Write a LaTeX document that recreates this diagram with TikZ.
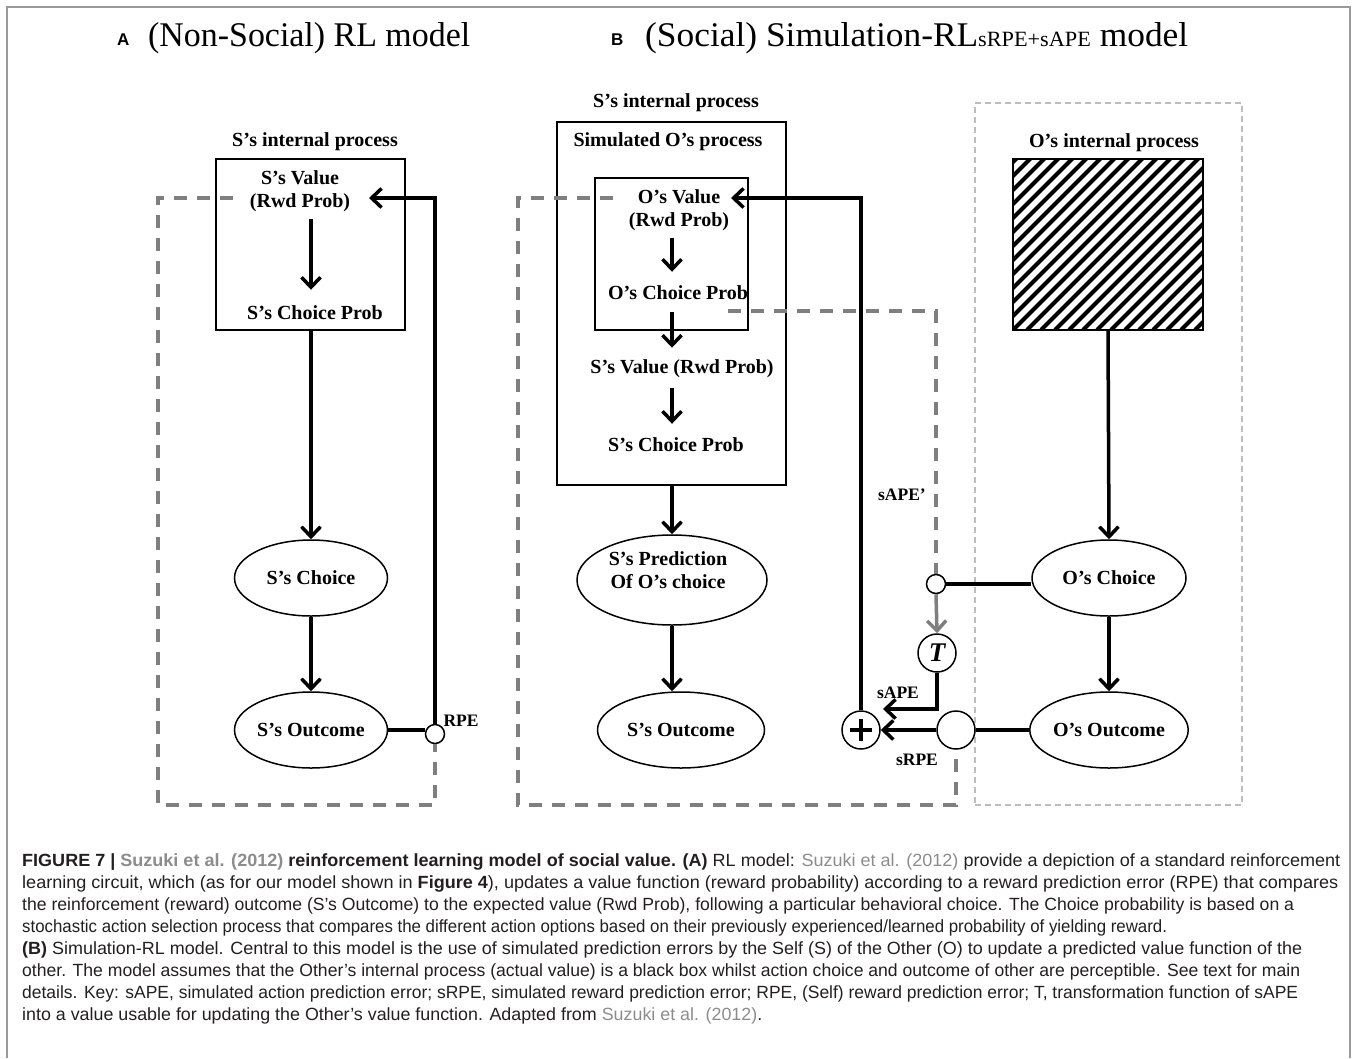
\documentclass[tikz,border=0pt]{standalone}
\usepackage{fontspec}
\setmainfont{Liberation Serif}
\newfontfamily\capsans{Liberation Sans}
\usetikzlibrary{arrows.meta,shapes.geometric,calc}
\definecolor{dashgray}{HTML}{7F7F7F}
\definecolor{lightdash}{HTML}{BDBDBD}
\definecolor{captxt}{HTML}{231F20}
\definecolor{citegray}{HTML}{8C8C8C}
\definecolor{framegray}{HTML}{9A9A9A}
\newcommand\labf{\fontsize{20}{22.5}\selectfont\bfseries}
\newcommand\smlabf{\fontsize{17.5}{20}\selectfont\bfseries}
\newcommand\citeg[1]{\textcolor{citegray}{#1}}
\newcommand\capl[4]{\node[anchor=base west, inner sep=0pt, text=captxt] (#1) at (22,#2) {\resizebox{#3pt}{12.8pt}{\capsans\fontsize{17}{17}\selectfont #4}};}
\begin{document}
\begin{tikzpicture}[x=1pt,y=-1pt,
  lab/.style={inner sep=0pt, font=\labf, align=center},
  slab/.style={inner sep=0pt, font=\smlabf},
  boxn/.style={draw, line width=1.6pt, inner sep=0pt},
  elln/.style={ellipse, draw, line width=1.5pt, fill=white, inner sep=0pt, font=\labf, align=center},
  circn/.style={circle, draw, line width=1.5pt, fill=white, inner sep=0pt},
  conn/.style={line width=3.5pt},
  arr/.style={line width=3.5pt, -{Straight Barb[length=10pt,width=19pt]}},
  garr/.style={line width=3.5pt, draw=dashgray, -{Straight Barb[length=10pt,width=19pt]}},
  gdash/.style={draw=dashgray, line width=3.8pt, dash pattern=on 13pt off 10pt},
  ldash/.style={draw=lightdash, line width=1.6pt, dash pattern=on 6pt off 4pt},
  panel/.style={inner sep=0pt, anchor=base west},
]
\useasboundingbox (0,0) rectangle (1357,1058);
% frame
\draw[framegray, line width=1.5pt] (7,1058) -- (7,7) -- (1350,7) -- (1350,1058);

% titles
\node[panel] (letA) at (117,45) {\capsans\bfseries\fontsize{17}{17}\selectfont A};
\node[panel] (titleA) at (148,46) {\resizebox{322pt}{24pt}{\fontsize{27}{27}\selectfont (Non-Social) RL model}};
\node[panel] (letB) at (611,45) {\capsans\bfseries\fontsize{17}{17}\selectfont B};
\node[panel] (titleB) at (645,46) {\resizebox{543pt}{24pt}{\fontsize{27}{27}\selectfont (Social) Simulation-RL{\fontsize{17}{17}\selectfont sRPE+sAPE} model}};

% ---------- Panel A nodes ----------
\node[lab] (Aproc) at (315,142) {S’s internal process};
\node[boxn, minimum width=189pt, minimum height=171pt] (Abox) at (310.5,244.5) {};
\node[lab] (Aval) at (300,191) {S’s Value\\(Rwd Prob)};
\node[lab] (Acp) at (315,313) {S’s Choice Prob};
\node[elln, minimum width=153pt, minimum height=76pt] (Ach) at (311,578) {S’s Choice};
\node[elln, minimum width=153pt, minimum height=76pt] (Aout) at (311,730) {S’s Outcome};
\node[circn, minimum size=19pt] (Arpe) at (435,734) {};
\node[slab] (Arpel) at (461,721) {RPE};
\coordinate (AvalIn) at (369,198);
\coordinate (AdS) at (233,198);
\coordinate (Abot) at (0,805);

% ---------- Panel B nodes ----------
\node[lab] (BSproc) at (676,103) {S’s internal process};
\node[boxn, minimum width=229pt, minimum height=363pt] (Bouter) at (671.5,303.5) {};
\node[lab] (Bsim) at (668,142) {Simulated O’s process};
\node[boxn, minimum width=153pt, minimum height=152pt] (Binner) at (671.5,254) {};
\node[lab] (BOval) at (679,210) {O’s Value\\(Rwd Prob)};
\node[lab] (BOcp) at (678,293) {O’s Choice Prob};
\node[lab] (BSval) at (682,369) {S’s Value (Rwd Prob)};
\node[lab] (BScp) at (676,445) {S’s Choice Prob};
\node[elln, minimum width=190pt, minimum height=90pt] (Bpred) at (672,580) {};
\node[lab] (Bpredt) at (668,570) {S’s Prediction\\Of O’s choice};
\node[elln, minimum width=167pt, minimum height=76pt] (Bout) at (681,730) {S’s Outcome};
\coordinate (BOvalIn) at (731,198);
\coordinate (BdS) at (613,198);
\coordinate (BsapeS) at (728,311);
\coordinate (BsAPEin) at (883,709);

% O's area
\node[ldash, draw, minimum width=267pt, minimum height=702pt, inner sep=0pt] (Oarea) at (1108.5,454) {};
\node[lab] (Oproc) at (1114,143) {O’s internal process};
\node[boxn, minimum width=190pt, minimum height=171pt,
  path picture={\foreach \k in {0,...,29}{\draw[line width=4pt] ([xshift=\k*14pt-196pt]path picture bounding box.south west) -- ++(220pt,220pt);}}] (Ohatch) at (1108,244.5) {};
\node[elln, minimum width=154pt, minimum height=76pt] (Och) at (1109,578) {O’s Choice};
\node[elln, minimum width=154pt, minimum height=76pt] (Oout) at (1109,730) {O’s Outcome};

% ---------- gray dashed feedback paths ----------
\draw[gdash] (AdS) -- ++(-75,0) |- (Abot -| Arpe.south) -- (Arpe.south);
\draw[gdash] (BdS) -- ++(-95,0) |- (Abot -| 956,0) -- (956,748);
\draw[gdash] (BsapeS) -| (936,574);

% circles in B
\node[circn, minimum size=38pt] (Bplus) at (861,730) {};
\node[circn, minimum size=38pt] (BsRPE) at (956,730) {};
\node[circn, minimum size=38pt, font=\fontsize{27}{27}\selectfont\bfseries\itshape] (BT) at (937,653) {T};
\node[circn, minimum size=19pt] (Bsm) at (936,584) {};
\draw[line width=4.2pt] ([xshift=-11pt]Bplus.center) -- ([xshift=11pt]Bplus.center);
\draw[line width=4.2pt] ([yshift=-11pt]Bplus.center) -- ([yshift=11pt]Bplus.center);
\node[slab] (lsape1) at (902,495) {sAPE’};
\node[slab] (lsape) at (898,693) {sAPE};
\node[slab] (lsrpe) at (917,760) {sRPE};

% ---------- Panel A connectors ----------
\draw[arr, shorten <=7pt, shorten >=16pt] (Aval.south -| Ach.north) -- (Acp.north -| Ach.north);
\draw[arr] (Abox.south -| Ach.north) -- (Ach.north);
\draw[arr] (Ach.south) -- (Aout.north);
\draw[conn] (Aout.east) -- (Aout.east -| Arpe.west);
\draw[arr] (Arpe.north) |- (AvalIn);

% ---------- Panel B connectors ----------
\draw[arr, shorten <=7pt, shorten >=14pt] (BOval.south -| 672,0) -- (BOcp.north -| 672,0);
\draw[arr, shorten <=12pt, shorten >=12pt] (BOcp.south -| 672,0) -- (BSval.north -| 672,0);
\draw[arr, shorten <=10pt, shorten >=14pt] (BSval.south -| 672,0) -- (BScp.north -| 672,0);
\draw[arr] (Bouter.south -| Bpred.north) -- (Bpred.north);
\draw[arr] (Bpred.south) -- (Bpred.south |- Bout.north);
\draw[arr] (Bplus.north) |- (BOvalIn);
\draw[arr] (Ohatch.south) -- (Och.north);
\draw[arr] (Och.south) -- (Oout.north);
\draw[conn] (Bsm.east) -- (Bsm.east -| Och.west);
\draw[conn] (Oout.west) -- (BsRPE.east);
\draw[arr] (BsRPE.west) -- (Bplus.east);
\draw[garr] (Bsm.south) -- (BT.north);
\draw[arr] (BT.south) |- (BsAPEin);

% ---------- caption ----------
\capl{c1}{866}{1318}{{\bfseries FIGURE 7 | \citeg{Suzuki et al. (2012)} reinforcement learning model of social value. (A)} RL model: \citeg{Suzuki et al. (2012)} provide a depiction of a standard reinforcement}
\capl{c2}{888}{1316}{learning circuit, which (as for our model shown in {\bfseries Figure 4}), updates a value function (reward probability) according to a reward prediction error (RPE) that compares}
\capl{c3}{910}{1272}{the reinforcement (reward) outcome (S’s Outcome) to the expected value (Rwd Prob), following a particular behavioral choice. The Choice probability is based on a}
\capl{c4}{932}{1145}{stochastic action selection process that compares the different action options based on their previously experienced/learned probability of yielding reward.}
\capl{c5}{954}{1280}{{\bfseries (B)} Simulation-RL model. Central to this model is the use of simulated prediction errors by the Self (S) of the Other (O) to update a predicted value function of the}
\capl{c6}{976}{1278}{other. The model assumes that the Other’s internal process (actual value) is a black box whilst action choice and outcome of other are perceptible. See text for main}
\capl{c7}{998}{1276}{details. Key: sAPE, simulated action prediction error; sRPE, simulated reward prediction error; RPE, (Self) reward prediction error; T, transformation function of sAPE}
\capl{c8}{1020}{740}{into a value usable for updating the Other’s value function. Adapted from \citeg{Suzuki et al. (2012)}.}
\end{tikzpicture}
\end{document}
